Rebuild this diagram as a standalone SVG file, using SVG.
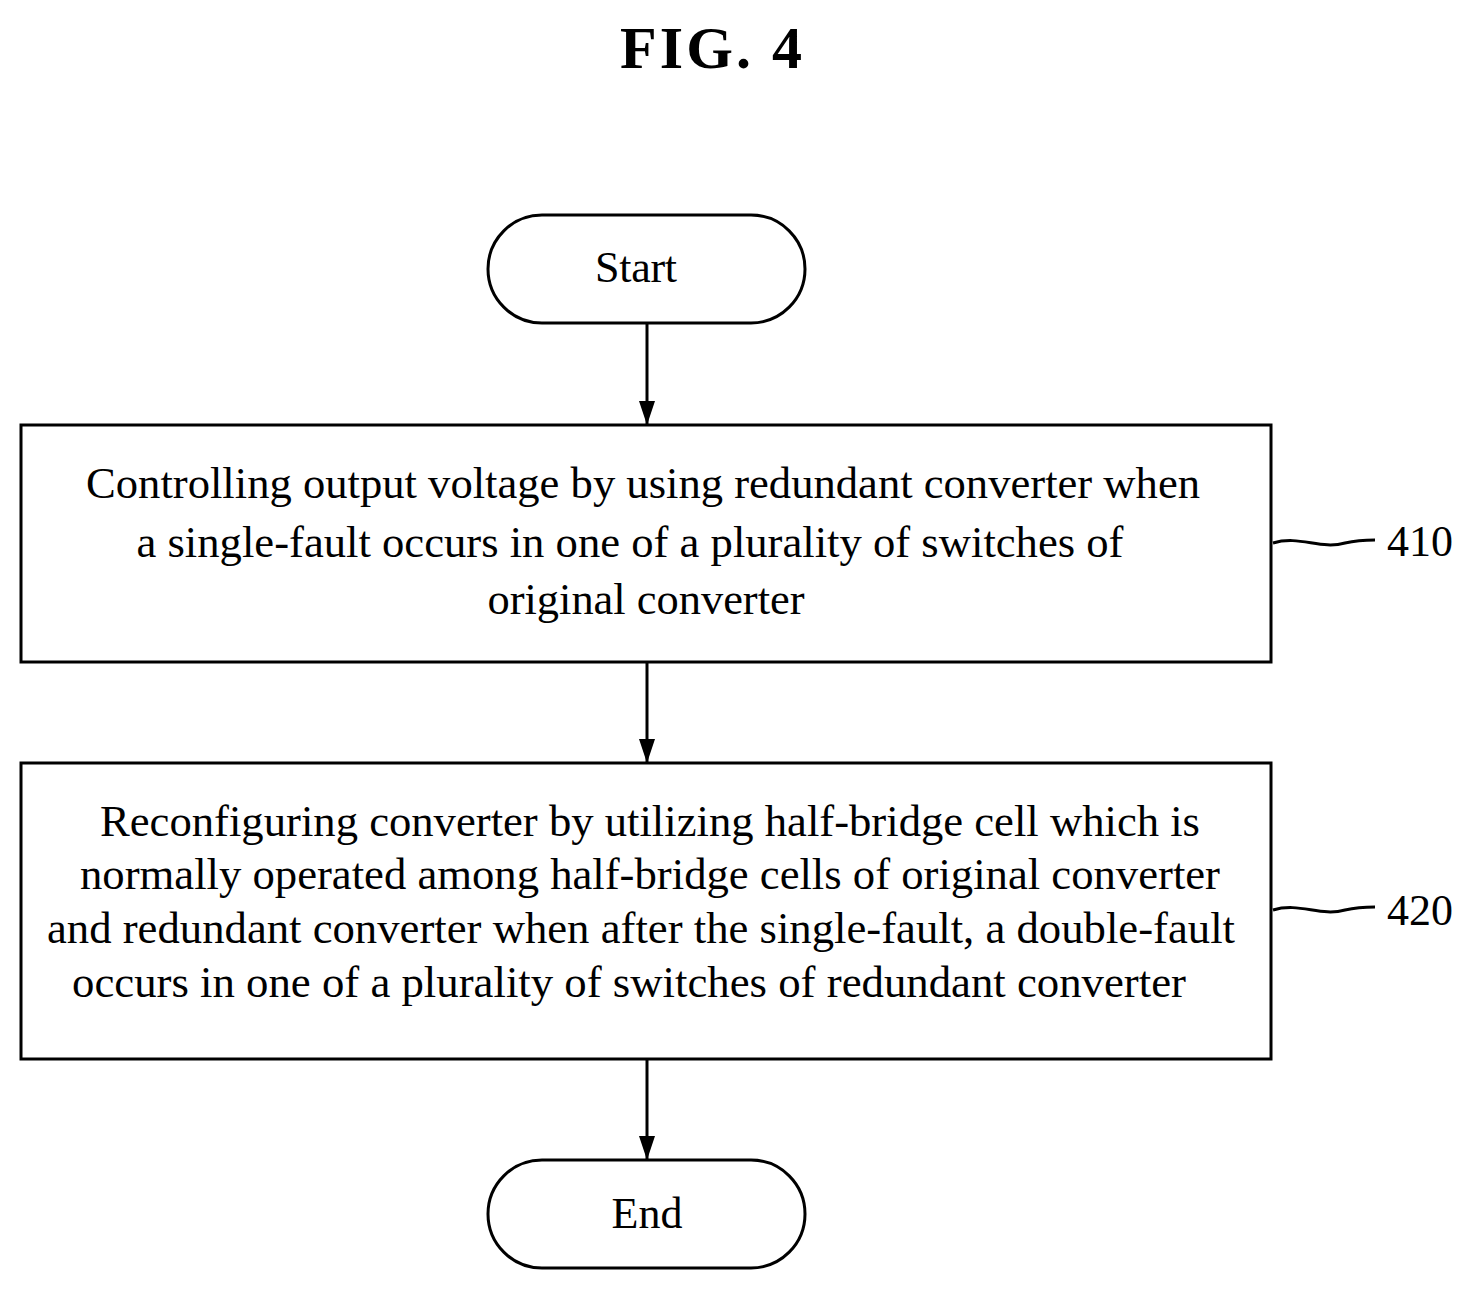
<svg xmlns="http://www.w3.org/2000/svg" width="1474" height="1293" viewBox="0 0 1474 1293">
<style>
.b{fill:#fff;stroke:#000;stroke-width:3}
.t{font-family:"Liberation Serif",serif;font-size:44px;fill:#000}
.c{stroke:#000;stroke-width:3;fill:none}
</style>
<defs><marker id="a" markerWidth="24" markerHeight="16" refX="23" refY="8" orient="auto" markerUnits="userSpaceOnUse"><path d="M0,0 L24,8 L0,16 Z" fill="#000"/></marker></defs>
<rect width="1474" height="1293" fill="#fff"/>
<text x="711" y="68" text-anchor="middle" textLength="182" style="font-family:'Liberation Serif',serif;font-size:60px;font-weight:bold">FIG. 4</text>
<g id="start"><rect class="b" x="488" y="215" width="317" height="108" rx="54"/><text class="t" x="636" y="282" text-anchor="middle" textLength="82">Start</text></g>
<g id="n410"><rect class="b" x="21" y="425" width="1250" height="237"/>
<text class="t" x="643" y="498" text-anchor="middle" textLength="1114" lengthAdjust="spacingAndGlyphs">Controlling output voltage by using redundant converter when</text>
<text class="t" x="630" y="557" text-anchor="middle" textLength="987" lengthAdjust="spacingAndGlyphs">a single-fault occurs in one of a plurality of switches of</text>
<text class="t" x="646" y="614" text-anchor="middle" textLength="317" lengthAdjust="spacingAndGlyphs">original converter</text>
<path class="c" d="M1273,543 C1300,535 1320,550 1345,543 C1358,540 1366,540 1375,540"/>
<text class="t" x="1420" y="556" text-anchor="middle">410</text></g>
<g id="n420"><rect class="b" x="21" y="763" width="1250" height="296"/>
<text class="t" x="650" y="836" text-anchor="middle" textLength="1100" lengthAdjust="spacingAndGlyphs">Reconfiguring converter by utilizing half-bridge cell which is</text>
<text class="t" x="650" y="889" text-anchor="middle" textLength="1140" lengthAdjust="spacingAndGlyphs">normally operated among half-bridge cells of original converter</text>
<text class="t" x="641" y="943" text-anchor="middle" textLength="1188" lengthAdjust="spacingAndGlyphs">and redundant converter when after the single-fault, a double-fault</text>
<text class="t" x="629" y="997" text-anchor="middle" textLength="1114" lengthAdjust="spacingAndGlyphs">occurs in one of a plurality of switches of redundant converter</text>
<path class="c" d="M1273,910 C1300,902 1320,917 1345,910 C1358,907 1366,907 1375,907"/>
<text class="t" x="1420" y="925" text-anchor="middle">420</text></g>
<g id="end"><rect class="b" x="488" y="1160" width="317" height="108" rx="54"/><text class="t" x="647" y="1228" text-anchor="middle">End</text></g>
<g id="connectors">
<line class="c" x1="647" y1="323" x2="647" y2="424" marker-end="url(#a)"/>
<line class="c" x1="647" y1="662" x2="647" y2="762" marker-end="url(#a)"/>
<line class="c" x1="647" y1="1059" x2="647" y2="1159" marker-end="url(#a)"/>
</g>
</svg>
